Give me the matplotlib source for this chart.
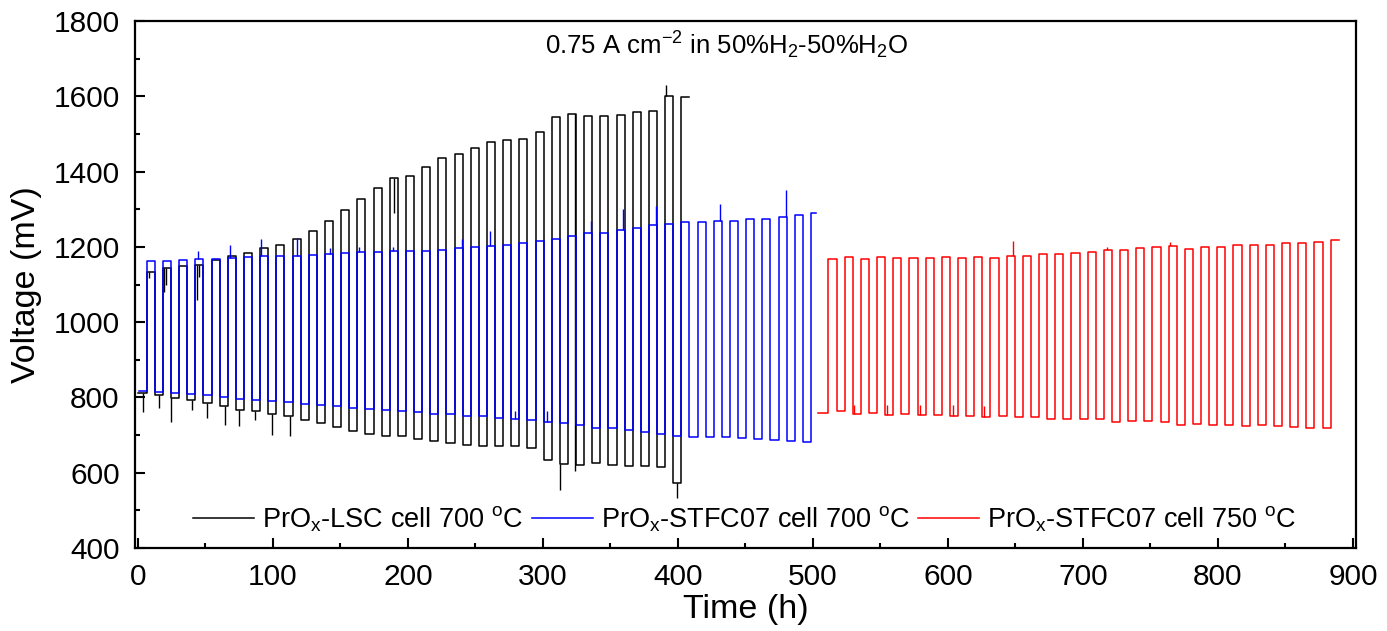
import numpy as np
import matplotlib
matplotlib.use('Agg')
import matplotlib.pyplot as plt
from matplotlib.ticker import MultipleLocator

# Galvanostatic reversible cycling at 0.75 A/cm2, 12 h cycles (6 h FC / 6 h EC)
cycle_h = 12.0

# PrOx-LSC cell 700 oC
lsc_t0, lsc_rise0, lsc_end = 0.0, 6.5, 408.5
lsc_low = [812, 807, 798, 794, 785, 776, 767, 763, 757, 752, 741, 733, 721, 710, 703, 698, 697,
           690, 683, 679, 674, 670, 670, 670, 667, 634, 623, 621, 625, 621, 619, 617, 614, 572]
lsc_high = [1133, 1144, 1149, 1153, 1166, 1175, 1184, 1196, 1206, 1220, 1242, 1269, 1297, 1328, 1357, 1382, 1388,
            1411, 1435, 1448, 1462, 1478, 1484, 1487, 1505, 1544, 1553, 1548, 1548, 1550, 1557, 1561, 1600, 1597]
lsc_spike_t = [3.5, 8, 15.5, 19.5, 21, 24.5, 40, 43.5, 45, 51.5, 64.5, 75, 87, 99.5, 112.5, 190, 312.5, 324, 391.5, 399]
lsc_spike_v = [762, 1118, 772, 1080, 1100, 736, 767, 1060, 1120, 745, 727, 723, 741, 701, 698, 1290, 555, 605, 1630, 533]

# PrOx-STFC07 cell 700 oC
stfc_t0, stfc_rise0, stfc_end = 0.5, 6.5, 502.5
stfc_low = [816, 815, 812, 810, 806, 802, 797, 794, 790, 787, 782, 780, 776, 773, 769, 767, 763, 762, 757, 755, 751,
            750, 746, 744, 739, 736, 731, 728, 720, 718, 713, 708, 703, 698, 696, 695, 694, 692, 689, 687, 685, 682]
stfc_high = [1162, 1163, 1166, 1168, 1168, 1170, 1173, 1175, 1177, 1177, 1178, 1182, 1184, 1186, 1186, 1188, 1189,
             1189, 1193, 1197, 1199, 1201, 1206, 1210, 1216, 1222, 1229, 1236, 1238, 1245, 1251, 1257, 1262, 1266,
             1266, 1269, 1269, 1273, 1275, 1280, 1285, 1289]
stfc_spike_t = [44.5, 68, 91, 117.5, 142, 164, 189, 240, 260.5, 279, 303, 335.5, 359.5, 384, 431, 480]
stfc_spike_v = [1190, 1206, 1220, 1224, 1198, 1200, 1200, 1220, 1242, 765, 764, 1269, 1301, 1308, 1313, 1351]

# PrOx-STFC07 cell 750 oC
hot_t0, hot_rise0, hot_end = 504.0, 511.5, 889.5
hot_low = [758, 763, 757, 760, 754, 756, 754, 754, 751, 752, 748, 750, 747, 748, 743, 744,
           744, 743, 736, 738, 738, 736, 727, 729, 727, 726, 725, 726, 724, 722, 719, 720]
hot_high = [1168, 1173, 1168, 1173, 1170, 1171, 1170, 1172, 1170, 1174, 1171, 1175, 1175, 1182, 1180, 1184,
            1186, 1191, 1192, 1196, 1199, 1201, 1195, 1199, 1200, 1205, 1206, 1206, 1211, 1211, 1214, 1218]
hot_spike_t = [530.5, 554.5, 579, 604, 626.5, 648, 717.5, 764.5]
hot_spike_v = [780, 780, 780, 779, 777, 1215, 1199, 1213]

labels = ['PrO$_\\mathregular{x}$-LSC cell 700 $^\\mathregular{o}$C',
          'PrO$_\\mathregular{x}$-STFC07 cell 700 $^\\mathregular{o}$C',
          'PrO$_\\mathregular{x}$-STFC07 cell 750 $^\\mathregular{o}$C']
colors = ['black', '#0000ff', '#ff0000']


def square_wave(t0, rise0, t_end, lows, highs):
    t, v = [t0], [lows[0]]
    for k in range(len(highs)):
        rise = rise0 + k * cycle_h
        t += [rise, rise]
        v += [lows[k], highs[k]]
        if k + 1 < len(lows):
            fall = rise + cycle_h / 2
            t += [fall, fall]
            v += [highs[k], lows[k + 1]]
    t.append(t_end)
    v.append(highs[-1])
    return np.array(t), np.array(v, dtype=float)


plt.rcParams['font.family'] = 'Liberation Sans'
plt.rcParams['mathtext.fontset'] = 'custom'
plt.rcParams['mathtext.rm'] = 'Liberation Sans'
plt.rcParams['mathtext.it'] = 'Liberation Sans:italic'
plt.rcParams['mathtext.bf'] = 'Liberation Sans:bold'

fig = plt.figure(figsize=(13.87, 6.31), dpi=100)
ax = fig.add_axes([0.0973, 0.1315, 0.8803, 0.8352])

series = [(lsc_t0, lsc_rise0, lsc_end, lsc_low, lsc_high, lsc_spike_t, lsc_spike_v),
          (stfc_t0, stfc_rise0, stfc_end, stfc_low, stfc_high, stfc_spike_t, stfc_spike_v),
          (hot_t0, hot_rise0, hot_end, hot_low, hot_high, hot_spike_t, hot_spike_v)]
for (t0, r0, te, lo, hi, st, sv), c, lab in zip(series, colors, labels):
    t, v = square_wave(t0, r0, te, lo, hi)
    ax.plot(t, v, color=c, lw=1.1, label=lab)
    base = np.interp(st, t, v)
    ax.vlines(st, base, sv, color=c, lw=1.0)

ax.set_xlim(-2.2, 902.2)
ax.set_ylim(400, 1800)
ax.xaxis.set_major_locator(MultipleLocator(100))
ax.xaxis.set_minor_locator(MultipleLocator(50))
ax.yaxis.set_major_locator(MultipleLocator(200))
ax.yaxis.set_minor_locator(MultipleLocator(100))
ax.tick_params(which='both', direction='in', width=1.5, top=False, right=False)
ax.tick_params(which='major', length=7, labelsize=21.5, pad=11)
ax.tick_params(which='minor', length=3.8)
for s in ax.spines.values():
    s.set_linewidth(1.6)

ax.set_xlabel('Time (h)', fontsize=24.5, labelpad=2)
ax.set_ylabel('Voltage (mV)', fontsize=24.5, labelpad=8)

ax.text(0.4845, 0.953, '0.75 A cm$^\\mathregular{-2}$ in 50%H$_\\mathregular{2}$-50%H$_\\mathregular{2}$O',
        transform=ax.transAxes, ha='center', va='center', fontsize=18.5)

ax.legend(loc='center', bbox_to_anchor=(0.4996, 0.055), ncol=3, frameon=False, fontsize=19.5,
          handlelength=2.25, handletextpad=0.3, columnspacing=0.3, borderaxespad=0)

fig.savefig('out.png', dpi=100)
